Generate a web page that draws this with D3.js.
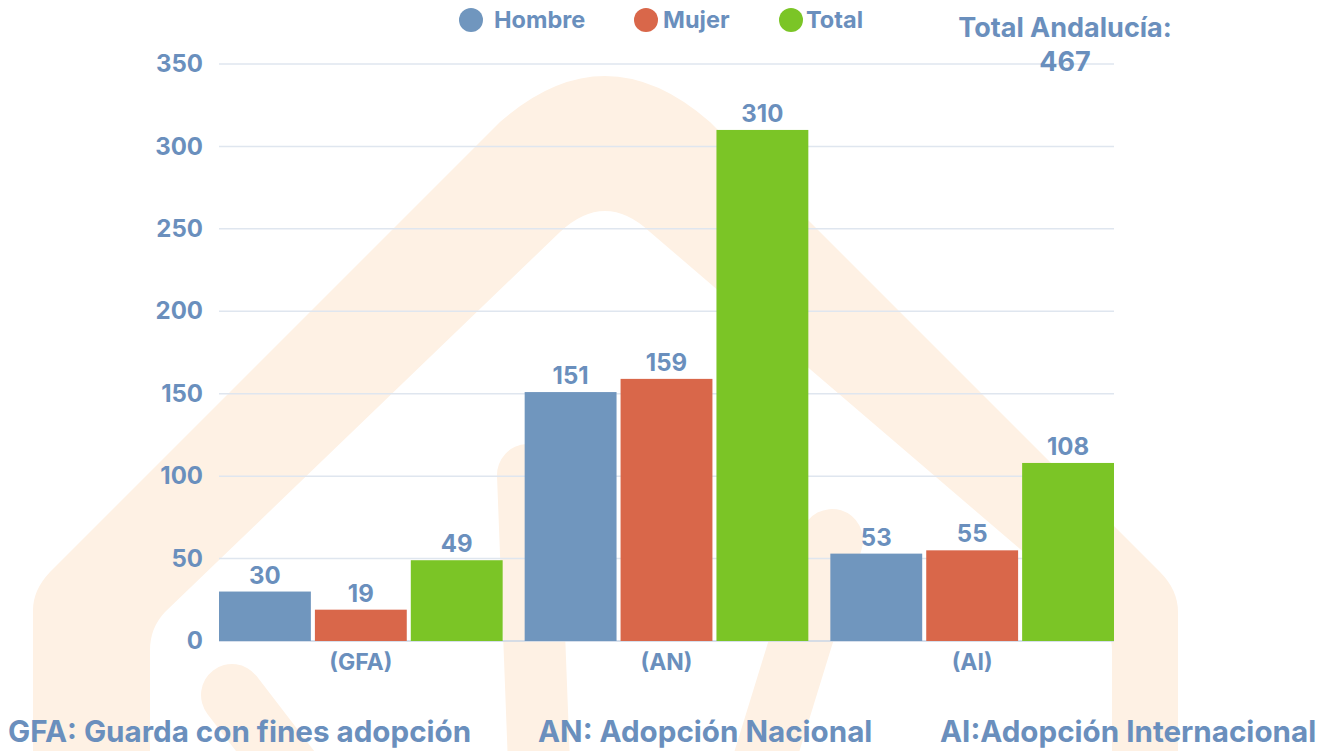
<!DOCTYPE html>
<html>
<head>
<meta charset="utf-8">
<script src="https://cdn.jsdelivr.net/npm/d3@7"></script>
<style>
  body { margin: 0; background: #fff; }
  text { font-family: Inter, "Open Sans", sans-serif; font-weight: 700; }
</style>
</head>
<body>
<div id="chart"></div>
<script>
// Data
const categories = ['(GFA)', '(AN)', '(AI)']
const seriesNames = ['Hombre', 'Mujer', 'Total']
const hombre = [30, 151, 53]
const mujer = [19, 159, 55]
const total = [49, 310, 108]
const yTicks = [0, 50, 100, 150, 200, 250, 300, 350]
const notes = ['GFA: Guarda con fines adopción', 'AN: Adopción Nacional', 'AI:Adopción Internacional']
const totalLabel = ['Total Andalucía:', '467']

const colors = { Hombre: '#7096be', Mujer: '#d9674a', Total: '#7bc526' }
const textColor = '#6a8fbd'

const rows = categories.map((c, i) => ({
  cat: c,
  values: [
    { key: 'Hombre', value: hombre[i] },
    { key: 'Mujer', value: mujer[i] },
    { key: 'Total', value: total[i] }
  ]
}))

// Dimensions
const dimensions = {
  width: 1333,
  height: 751,
  margin: { top: 64, bottom: 110, left: 219, right: 219 }
}
dimensions.ctrWidth = dimensions.width - dimensions.margin.left - dimensions.margin.right
dimensions.ctrHeight = dimensions.height - dimensions.margin.top - dimensions.margin.bottom

const svg = d3.select('#chart')
  .append('svg')
  .attr('width', dimensions.width)
  .attr('height', dimensions.height)

// Watermark (pale house shape behind the chart)
const wm = svg.append('g').attr('fill', '#fef1e4').attr('stroke', 'none')
wm.append('path')
  .attr('d', 'M33,760 L33,610 Q33,590 50,572 L500,122 Q605,30 710,122 L1160,572 Q1178,590 1178,612 L1178,760 L1112,760 L1112,650 Q1112,630 1097,615 L650,232 Q605,190 560,232 L165,612 Q150,628 150,650 L150,760 Z')
const wmStrokes = [
  'M232,695 L305,790',
  'M528,475 L540,790',
  'M832,540 L755,790'
]
wm.selectAll('path.leg')
  .data(wmStrokes)
  .join('path')
  .attr('class', 'leg')
  .attr('d', d => d)
  .attr('fill', 'none')
  .attr('stroke', '#fef1e4')
  .attr('stroke-width', 62)
  .attr('stroke-linecap', 'round')

const ctr = svg.append('g')
  .attr('transform', `translate(${dimensions.margin.left}, ${dimensions.margin.top})`)

// Scales
const xScale = d3.scaleBand()
  .domain(categories)
  .range([0, dimensions.ctrWidth])
  .paddingInner(0.072)
  .paddingOuter(0)

const xInner = d3.scaleBand()
  .domain(seriesNames)
  .range([0, xScale.bandwidth()])
  .paddingInner(0.042)

const yScale = d3.scaleLinear()
  .domain([0, 350])
  .range([dimensions.ctrHeight, 0])

// Grid
ctr.selectAll('line.grid')
  .data(yTicks)
  .join('line')
  .attr('class', 'grid')
  .attr('x1', 0)
  .attr('x2', dimensions.ctrWidth)
  .attr('y1', d => yScale(d))
  .attr('y2', d => yScale(d))
  .attr('stroke', d => d === 0 ? '#c8d5e6' : '#dfe6ef')
  .attr('stroke-width', 1.5)

// Y axis labels
const yAxis = d3.axisLeft(yScale).tickValues(yTicks).tickSize(0).tickPadding(16)
const yAxisG = ctr.append('g').call(yAxis)
yAxisG.select('.domain').remove()
yAxisG.selectAll('text')
  .attr('fill', textColor)
  .style('font-size', '24px')

// X axis labels
const xAxis = d3.axisBottom(xScale).tickSize(0).tickPadding(13)
const xAxisG = ctr.append('g')
  .attr('transform', `translate(0, ${dimensions.ctrHeight})`)
  .call(xAxis)
xAxisG.select('.domain').remove()
xAxisG.selectAll('text')
  .attr('fill', textColor)
  .style('font-size', '23px')

// Bars
const groups = ctr.selectAll('g.group')
  .data(rows)
  .join('g')
  .attr('class', 'group')
  .attr('transform', d => `translate(${xScale(d.cat)}, 0)`)

groups.selectAll('rect')
  .data(d => d.values)
  .join('rect')
  .attr('x', d => xInner(d.key))
  .attr('y', d => yScale(d.value))
  .attr('width', xInner.bandwidth())
  .attr('height', d => dimensions.ctrHeight - yScale(d.value))
  .attr('fill', d => colors[d.key])

groups.selectAll('text.val')
  .data(d => d.values)
  .join('text')
  .attr('class', 'val')
  .attr('x', d => xInner(d.key) + xInner.bandwidth() / 2)
  .attr('y', d => yScale(d.value) - 8)
  .attr('text-anchor', 'middle')
  .attr('fill', textColor)
  .style('font-size', '24px')
  .text(d => d.value)

// Legend
const legendX = [471, 646, 791]
const legendTextX = [494, 663, 806]
const legend = svg.selectAll('g.legend')
  .data(seriesNames)
  .join('g')
  .attr('class', 'legend')
  .attr('transform', (d, i) => `translate(${legendX[i]}, 20)`)
legend.append('circle')
  .attr('r', 12)
  .attr('fill', d => colors[d])
legend.append('text')
  .attr('x', (d, i) => legendTextX[i] - legendX[i])
  .attr('y', 8)
  .attr('fill', textColor)
  .style('font-size', '23.5px')
  .text(d => d)

// Total Andalucía
svg.selectAll('text.total')
  .data(totalLabel)
  .join('text')
  .attr('class', 'total')
  .attr('x', 1065)
  .attr('y', (d, i) => 37 + i * 34)
  .attr('text-anchor', 'middle')
  .attr('fill', textColor)
  .style('font-size', '27px')
  .text(d => d)

// Footnotes
const noteX = [8, 538, 940]
svg.selectAll('text.note')
  .data(notes)
  .join('text')
  .attr('class', 'note')
  .attr('x', (d, i) => noteX[i])
  .attr('y', 742)
  .attr('fill', textColor)
  .style('font-size', '29.6px')
  .text(d => d)
</script>
</body>
</html>
